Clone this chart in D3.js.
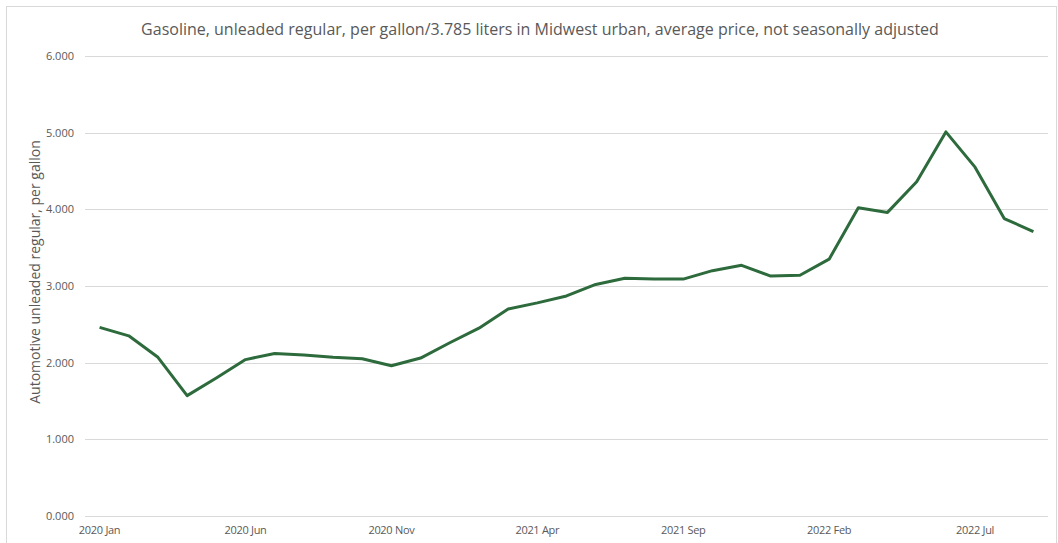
<!DOCTYPE html>
<html>
<head>
<meta charset="utf-8">
<script src="https://cdn.jsdelivr.net/npm/d3@7"></script>
<style>
  body { margin: 0; background: #fff; }
  svg text { font-family: "Open Sans", "Liberation Sans", sans-serif; fill: #595959; }
</style>
</head>
<body>
<svg width="1058" height="543"></svg>
<script>
// monthly data, 2020 Jan .. 2022 Sep
const months = ['Jan','Feb','Mar','Apr','May','Jun','Jul','Aug','Sep','Oct','Nov','Dec'];
const periods = [];
for (let y = 2020; y <= 2022; y++) {
  for (const m of months) {
    if (y === 2022 && months.indexOf(m) > 8) break;
    periods.push(y + ' ' + m);
  }
}
const prices = [2.46, 2.35, 2.07, 1.57, 1.80, 2.04, 2.12, 2.10, 2.07, 2.05, 1.96, 2.06,
                2.26, 2.45, 2.70, 2.78, 2.87, 3.02, 3.10, 3.09, 3.09, 3.20, 3.27, 3.13,
                3.14, 3.35, 4.02, 3.96, 4.36, 5.01, 4.55, 3.88, 3.71];
const yTicks = [0, 1, 2, 3, 4, 5, 6];
const xTickLabels = ['2020 Jan', '2020 Jun', '2020 Nov', '2021 Apr', '2021 Sep', '2022 Feb', '2022 Jul'];

const svg = d3.select('svg');

// chart frame
svg.append('rect')
  .attr('x', 6.5).attr('y', 6.5)
  .attr('width', 1050).attr('height', 545)
  .attr('fill', 'none').attr('stroke', '#d9d9d9');

const x = d3.scalePoint().domain(periods).range([85, 1048]).padding(0.5);
const y = d3.scaleLinear().domain([0, 6]).range([516, 56]);

// gridlines
svg.append('g')
  .selectAll('line')
  .data(yTicks)
  .enter()
  .append('line')
  .attr('x1', 85).attr('x2', 1048)
  .attr('y1', d => Math.round(y(d)) + 0.5)
  .attr('y2', d => Math.round(y(d)) + 0.5)
  .attr('stroke', '#d9d9d9').attr('stroke-width', 1);

// y tick labels
svg.append('g')
  .selectAll('text')
  .data(yTicks)
  .enter()
  .append('text')
  .attr('x', 74)
  .attr('y', d => y(d) + 4)
  .attr('text-anchor', 'end')
  .attr('font-size', 11)
  .text(d3.format('.3f'));

// x tick labels
svg.append('g')
  .selectAll('text')
  .data(xTickLabels)
  .enter()
  .append('text')
  .attr('x', d => x(d))
  .attr('y', 534)
  .attr('text-anchor', 'middle')
  .attr('font-size', 11)
  .attr('letter-spacing', -0.3)
  .text(d => d);

// line
const line = d3.line()
  .x((d, i) => x(periods[i]))
  .y(d => y(d));

svg.append('path')
  .datum(prices)
  .attr('d', line)
  .attr('fill', 'none')
  .attr('stroke', '#2d6a3c')
  .attr('stroke-width', 3)
  .attr('stroke-linejoin', 'round');

// title
svg.append('text')
  .attr('x', 540).attr('y', 35)
  .attr('text-anchor', 'middle')
  .attr('font-size', 16)
  .text('Gasoline, unleaded regular, per gallon/3.785 liters in Midwest urban, average price, not seasonally adjusted');

// axis title
svg.append('text')
  .attr('transform', 'translate(40,272) rotate(-90)')
  .attr('text-anchor', 'middle')
  .attr('font-size', 14)
  .text('Automotive unleaded regular, per gallon');
</script>
</body>
</html>
